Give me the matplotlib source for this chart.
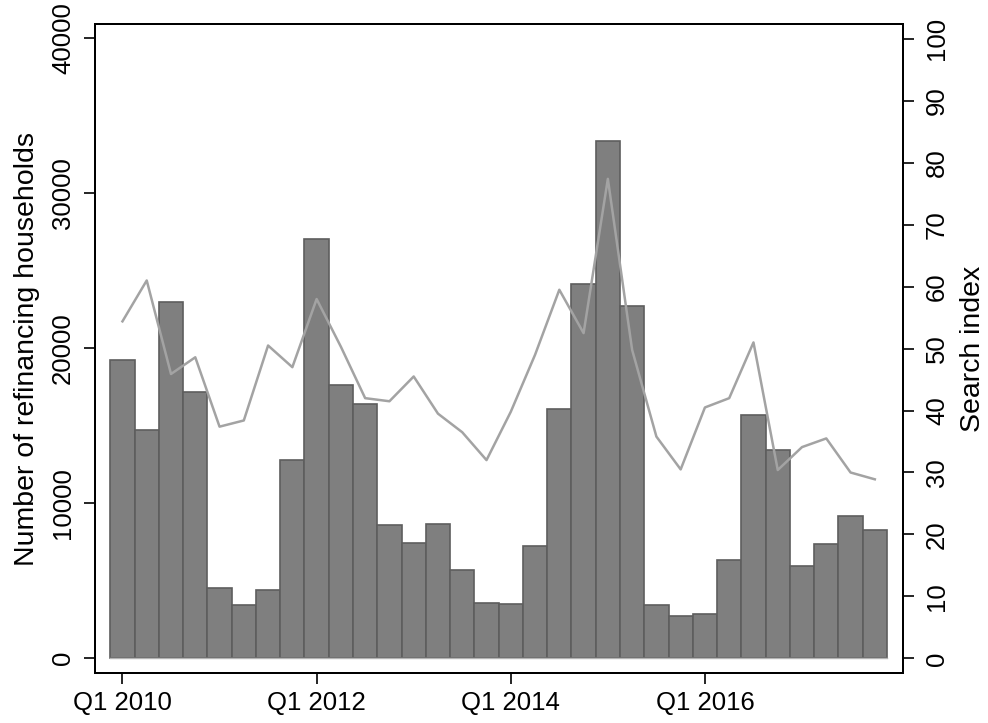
import numpy as np
import matplotlib
matplotlib.use('Agg')
import matplotlib.pyplot as plt

plt.rcParams['font.family'] = ['Liberation Sans', 'DejaVu Sans']

# quarterly data, Q1 2010 .. Q4 2017
quarters = [f'Q{q} {y}' for y in range(2010, 2018) for q in range(1, 5)]
refinancing = [19250, 14730, 23000, 17160, 4560, 3440, 4430, 12790,
               27050, 17630, 16390, 8600, 7460, 8640, 5700, 3570,
               3480, 7270, 16070, 24150, 33370, 22710, 3460, 2710,
               2880, 6340, 15700, 13440, 5960, 7370, 9180, 8280]
search_index = [54.4, 61.0, 45.9, 48.6, 37.4, 38.4, 50.5, 47.0,
                58.0, 50.3, 42.0, 41.5, 45.5, 39.5, 36.5, 32.0,
                39.8, 49.0, 59.5, 52.5, 77.4, 49.8, 35.8, 30.5,
                40.5, 42.0, 51.0, 30.4, 34.1, 35.5, 30.0, 28.9]
tick_labels = ['Q1 2010', 'Q1 2012', 'Q1 2014', 'Q1 2016']

x = np.arange(len(quarters))

fig = plt.figure(figsize=(9.88, 7.23), dpi=100)
ax = fig.add_axes([0.0957, 0.0687, 0.818, 0.8981])

# bars: number of refinancing households
ax.bar(x, refinancing, width=1.0, color='#7f7f7f', edgecolor='#5e5e5e', linewidth=1.2, zorder=2)
ax.plot([x[0] - 0.5, x[-1] + 0.5], [0, 0], color='#b4b4b4', linewidth=1.0, zorder=3)
ax.set_xlim(-1.15, 32.15)
ax.set_ylim(-970, 40920)
ax.set_yticks([0, 10000, 20000, 30000, 40000])
ax.set_yticklabels(['0', '10000', '20000', '30000', '40000'], rotation=90, va='center')
ax.set_xticks([quarters.index(t) for t in tick_labels])
ax.set_xticklabels(tick_labels)
ax.set_ylabel('Number of refinancing households', fontsize=20.5, labelpad=8)
ax.tick_params(axis='both', labelsize=18.5, length=8, width=1.2, color='black')
ax.tick_params(axis='y', pad=6)
ax.tick_params(axis='x', pad=5)

# line: search index on right axis
ax2 = ax.twinx()
ax2.plot(x, search_index, color='#a3a3a3', linewidth=1.8, zorder=4)
ax2.set_ylim(-2.42, 102.4)
ax2.set_yticks(np.arange(0, 101, 10))
ax2.set_yticklabels([str(v) for v in range(0, 101, 10)], rotation=90, va='center')
ax2.set_ylabel('Search index', fontsize=20.5, labelpad=8)
ax2.tick_params(axis='y', labelsize=18.5, length=8, width=1.2, pad=8)

for a in (ax, ax2):
    for s in a.spines.values():
        s.set_linewidth(1.4)
        s.set_color('black')

fig.savefig('out.png', dpi=100)
